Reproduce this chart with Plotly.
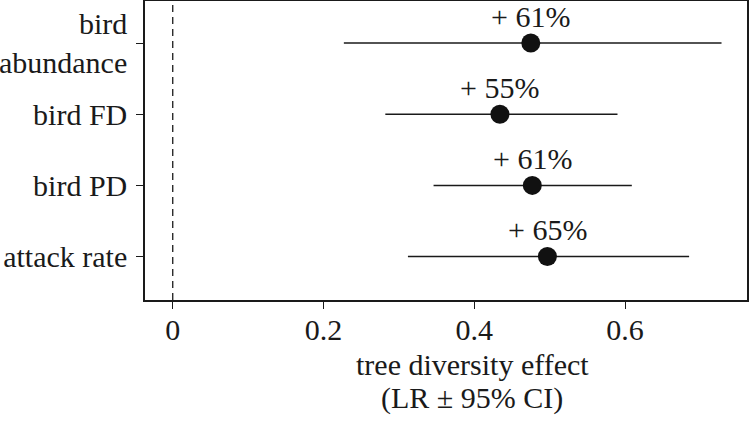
import plotly.graph_objects as go

categories = ["attack rate", "bird PD", "bird FD", "bird<br>abundance"]
effect = [0.497, 0.477, 0.434, 0.475]
ci_low = [0.312, 0.346, 0.282, 0.227]
ci_high = [0.685, 0.609, 0.590, 0.728]
pct_labels = ["+ 65%", "+ 61%", "+ 55%", "+ 61%"]

tick_vals = [0, 0.2, 0.4, 0.6]
tick_text = ["0", "0.2", "0.4", "0.6"]
x_title_lines = ["tree diversity effect", "(LR ± 95% CI)"]

FONT = "Liberation Serif"
fs = 30
INK = "#1a1a1a"

fig = go.Figure()
ypos = list(range(len(categories)))

for i in ypos:
    fig.add_trace(go.Scatter(x=[ci_low[i], ci_high[i]], y=[i, i], mode="lines",
                             line=dict(color=INK, width=1.5), showlegend=False,
                             hoverinfo="skip"))

fig.add_trace(go.Scatter(x=effect, y=ypos, mode="markers",
                         marker=dict(color="#111111", size=19),
                         showlegend=False))

for i in ypos:
    fig.add_annotation(x=effect[i], y=i, text=pct_labels[i], showarrow=False,
                       yshift=27, font=dict(family=FONT, size=fs, color=INK))

fig.add_shape(type="line", x0=0, x1=0, y0=0, y1=1, yref="paper", xref="x",
              line=dict(color=INK, width=1.3, dash="7px,5px"))

# x-axis title (two lines)
fig.add_annotation(x=0.544, y=-64 / 299, xref="paper", yref="paper",
                   text=x_title_lines[0], showarrow=False, yanchor="middle",
                   font=dict(family=FONT, size=fs, color=INK))
fig.add_annotation(x=0.544, y=-98 / 299, xref="paper", yref="paper",
                   text=x_title_lines[1], showarrow=False, yanchor="middle",
                   font=dict(family=FONT, size=fs, color=INK))

fig.update_layout(
    width=750, height=423,
    margin=dict(l=145, r=3, t=1, b=123, autoexpand=False),
    plot_bgcolor="white", paper_bgcolor="white",
    font=dict(family=FONT, size=fs, color=INK),
    xaxis=dict(range=[-0.0368, 0.7618], tickvals=tick_vals, ticktext=tick_text,
               ticks="outside", ticklen=7, tickcolor=INK, tickwidth=1.3,
               ticklabelstandoff=-5,
               showgrid=False, zeroline=False, showline=True, mirror=True,
               linecolor=INK, linewidth=1.5, automargin=False),
    yaxis=dict(range=[-0.61, 3.59], tickvals=ypos, ticktext=categories,
               ticks="outside", ticklen=7, tickcolor=INK, tickwidth=1.3,
               ticklabelstandoff=3,
               showgrid=False, zeroline=False, showline=True, mirror=True,
               linecolor=INK, linewidth=1.5, automargin=False),
)

fig.write_html("out.html", config={"displayModeBar": False},
               post_script="document.body.style.margin='0';document.body.style.overflow='hidden';")
